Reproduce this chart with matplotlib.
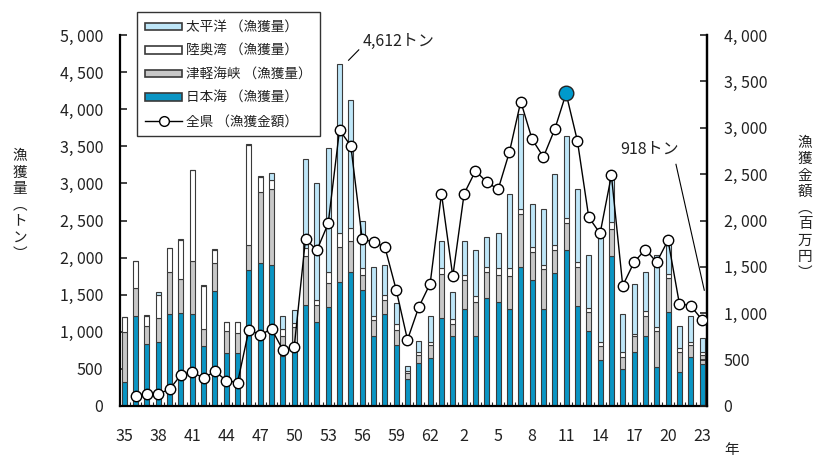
import numpy as np
import matplotlib
matplotlib.use('Agg')
import matplotlib.pyplot as plt
from matplotlib.patches import Patch
from matplotlib.lines import Line2D

plt.rcParams['font.family'] = ['Noto Sans CJK JP', 'DejaVu Sans']
plt.rcParams['text.color'] = '#222222'
plt.rcParams['xtick.color'] = '#222222'
plt.rcParams['ytick.color'] = '#222222'

# 昭和35年(1960) ～ 平成23年(2011)
tick_labels = ['35', '38', '41', '44', '47', '50', '53', '56', '59', '62',
               '2', '5', '8', '11', '14', '17', '20', '23']

# 漁獲量 (トン)
japan_sea = [330, 1207, 838, 856, 1239, 1252, 1239, 802, 1545, 712,
             712, 1838, 1928, 1905, 670, 800, 1365, 1130, 1333, 1671,
             1802, 1568, 946, 1239, 824, 360, 577, 644, 1185, 946,
             1306, 937, 1455, 1401, 1311, 1874, 1694, 1306, 1793, 2108,
             1352, 1005, 622, 2018, 496, 734, 946, 532, 1261, 464,
             658, 560]
tsugaru = [670, 383, 234, 329, 563, 460, 710, 234, 383, 300,
           270, 329, 960, 1020, 270, 260, 650, 230, 325, 475,
           420, 200, 216, 185, 194, 80, 110, 180, 595, 162,
           388, 464, 347, 369, 437, 707, 378, 541, 315, 352,
           522, 256, 193, 370, 162, 212, 261, 473, 464, 257,
           166, 130]
mutsu = [200, 360, 144, 315, 329, 531, 1230, 586, 180, 114,
         144, 1350, 200, 125, 100, 60, 110, 70, 150, 190,
         180, 90, 54, 67, 90, 38, 34, 45, 80, 63,
         76, 77, 72, 90, 112, 77, 72, 58, 68, 76,
         63, 59, 54, 90, 76, 27, 68, 54, 55, 58,
         45, 40]
pacific = [5, 5, 5, 32, 5, 5, 5, 5, 5, 5,
           5, 10, 10, 90, 170, 180, 1200, 1570, 1675, 2276,
           1720, 640, 658, 410, 280, 67, 157, 338, 370, 361,
           460, 621, 405, 474, 1001, 1275, 572, 753, 955, 1104,
           991, 721, 1442, 621, 505, 671, 532, 982, 396, 302,
           338, 188]

# 漁獲金額 (百万円)
value = [np.nan, 112, 130, 130, 180, 335, 368, 299, 375, 274,
         252, 822, 768, 829, 605, 634, 1802, 1679, 1968, 2977,
         2804, 1802, 1766, 1716, 1254, 714, 1067, 1319, 2289, 1398,
         2289, 2534, 2415, 2335, 2739, 3283, 2876, 2685, 2984, 3370,
         2858, 2036, 1860, 2487, 1297, 1550, 1687, 1550, 1788, 1103,
         1081, 930]

c_js = '#0A95C4'
c_ts = '#C8C8C8'
c_mb = '#FFFFFF'
c_po = '#BEE6F8'
ec = '#3A3A3A'

fig = plt.figure(figsize=(8.15, 4.59), dpi=100)
ax = fig.add_axes([0.1472, 0.1155, 0.7203, 0.8082])

x = np.arange(len(japan_sea))
js = np.array(japan_sea)
ts = np.array(tsugaru)
mb = np.array(mutsu)
po = np.array(pacific)
w = 0.44
kw = dict(width=w, edgecolor=ec, linewidth=0.8, zorder=2)
ax.bar(x, js, color=c_js, **kw)
ax.bar(x, ts, bottom=js, color=c_ts, **kw)
ax.bar(x, mb, bottom=js + ts, color=c_mb, **kw)
ax.bar(x, po, bottom=js + ts + mb, color=c_po, **kw)

ax.set_xlim(-0.38, 51.44)
ax.set_ylim(0, 5000)
ax.set_yticks(range(0, 5001, 500))
ax.set_yticklabels([f'{v:,}'.replace(',', ', ') for v in range(0, 5001, 500)])
ax.set_xticks(np.arange(0, 52, 3))
ax.set_xticklabels(tick_labels)
ax.set_xticks(np.arange(0.5, 51, 1), minor=True)
ax.tick_params(axis='y', direction='in', length=5, width=1.2, labelsize=11.5, pad=12)
ax.tick_params(axis='x', which='major', length=0, labelsize=11.5, pad=16)
ax.tick_params(axis='x', which='minor', direction='in', length=3, width=0.8)
ax.spines['top'].set_visible(False)
for s in ['left', 'right', 'bottom']:
    ax.spines[s].set_linewidth(1.6)

ax2 = ax.twinx()
ax2.set_ylim(0, 4000)
ax2.set_yticks(range(0, 4001, 500))
ax2.set_yticklabels([f'{v:,}'.replace(',', ', ') for v in range(0, 4001, 500)])
ax2.tick_params(axis='y', direction='in', length=5, width=1.2, labelsize=11.5, pad=12)
ax2.spines['top'].set_visible(False)
ax2.spines['right'].set_linewidth(1.6)
ax2.spines['left'].set_visible(False)
ax2.spines['bottom'].set_visible(False)

ax2.plot(x, value, color='black', lw=1, marker='o', ms=7.5, mfc='white',
         mec='black', mew=1, zorder=3)
imax = int(np.nanargmax(value))
ax2.plot(x[imax], value[imax], 'o', ms=10.5, mfc='#0099CC', mec='#222222',
         mew=1, zorder=4)

# 注記
ax.plot([19.8, 20.7], [4660, 4800], color='black', lw=0.8)
ax.text(21.0, 4920, '4,612トン', fontsize=11.5, ha='left', va='center')
ax.plot([48.7, 51.2], [3257, 1560], color='black', lw=0.8)
ax.text(46.4, 3459, '918トン', fontsize=11.5, ha='center', va='center')

handles = [Patch(fc=c_po, ec=ec, lw=1.2), Patch(fc=c_mb, ec=ec, lw=1.2),
           Patch(fc=c_ts, ec=ec, lw=1.2), Patch(fc=c_js, ec=ec, lw=1.2),
           Line2D([], [], color='black', lw=1, marker='o', ms=7, mfc='white', mec='black')]
labels = ['太平洋 （漁獲量）', '陸奥湾 （漁獲量）', '津軽海峡 （漁獲量）',
          '日本海 （漁獲量）', '全県 （漁獲金額）']
leg = ax2.legend(handles, labels, loc='upper left',
                 bbox_to_anchor=(137 / 815, 1 - 12 / 459), bbox_transform=fig.transFigure,
                 frameon=True, fancybox=False, edgecolor='#333333', fontsize=9.8,
                 handlelength=2.7, handleheight=0.45, labelspacing=0.7,
                 handletextpad=0.3, borderpad=0.6, borderaxespad=0)
leg.get_frame().set_linewidth(1.0)
leg.get_frame().set_alpha(1)

fig.text(20 / 815, 1 - 205 / 459, '\n'.join('漁獲量︵トン︶'), ha='center', va='center',
         fontsize=10.5, linespacing=1.2)
fig.text(805 / 815, 1 - 208 / 459, '\n'.join('漁獲金額︵百万円︶'), ha='center', va='center',
         fontsize=10.5, linespacing=1.2)
fig.text(732 / 815, 1 - 450 / 459, '年', ha='center', va='center', fontsize=10.5)

fig.savefig('out.png', dpi=100)
